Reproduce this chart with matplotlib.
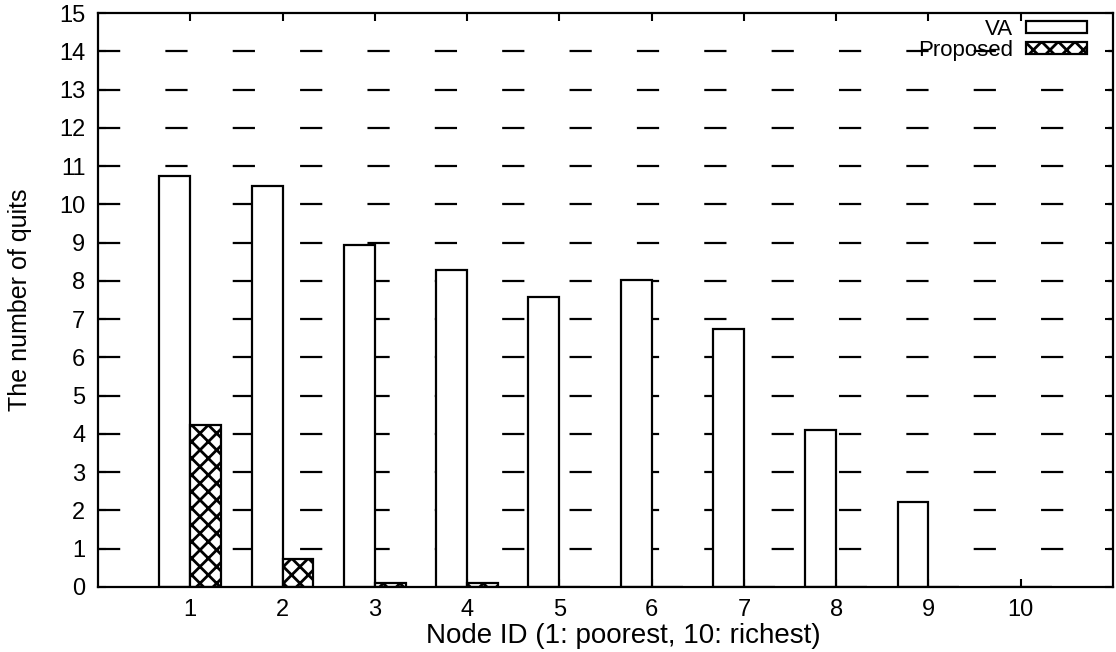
import numpy as np
import matplotlib.pyplot as plt
from matplotlib.patches import Patch

plt.rcParams['font.family'] = ['Liberation Sans', 'DejaVu Sans']
plt.rcParams['hatch.linewidth'] = 2.0
plt.rcParams['lines.scale_dashes'] = False

# Data
node_ids = [1, 2, 3, 4, 5, 6, 7, 8, 9, 10]
va_quits = [10.75, 10.47, 8.93, 8.29, 7.57, 8.02, 6.74, 4.11, 2.21, 0.0]
proposed_quits = [4.24, 0.74, 0.11, 0.11, 0.0, 0.0, 0.0, 0.0, 0.0, 0.0]
y_ticks = list(range(0, 16))

fig = plt.figure(figsize=(11.16, 6.52), dpi=100)
ax = fig.add_axes([0.0878, 0.0997, 0.9095, 0.8803])

x = np.array(node_ids)
w = 0.335

# dashed horizontal grid, long dashes like gnuplot
for yv in y_ticks[1:-1]:
    ax.axhline(yv, color='black', lw=1.6, dashes=(16, 32.5), zorder=0.5)

ax.bar(x - w / 2, va_quits, width=w, color='white', edgecolor='black',
       linewidth=1.6, zorder=2)
ax.bar(x + w / 2, proposed_quits, width=w, color='white', edgecolor='black',
       linewidth=1.6, hatch='xx', zorder=2)

ax.set_xlim(0, 11)
ax.set_ylim(0, 15)
ax.set_xticks(node_ids)
ax.set_yticks(y_ticks)
ax.tick_params(direction='in', length=6, width=1.5, top=True, right=True,
               labelsize=17, pad=9)
for s in ax.spines.values():
    s.set_linewidth(1.6)

ax.set_xlabel('Node ID (1: poorest, 10: richest)', fontsize=20, labelpad=0)
ax.xaxis.set_label_coords(0.518, -0.062)
ax.set_ylabel('The number of quits', fontsize=18)
ax.yaxis.set_label_coords(-0.065, 0.5)

handles = [Patch(facecolor='white', edgecolor='black', linewidth=1.6, label='VA'),
           Patch(facecolor='white', edgecolor='black', linewidth=1.6, hatch='xx',
                 label='Proposed')]
ax.legend(handles=handles, loc='upper right', frameon=False, markerfirst=False,
          fontsize=16, handlelength=2.75, handleheight=0.45, labelspacing=0.0,
          handletextpad=0.55, borderaxespad=0.0, bbox_to_anchor=(0.983, 1.005))

fig.savefig('out.png', dpi=100)
